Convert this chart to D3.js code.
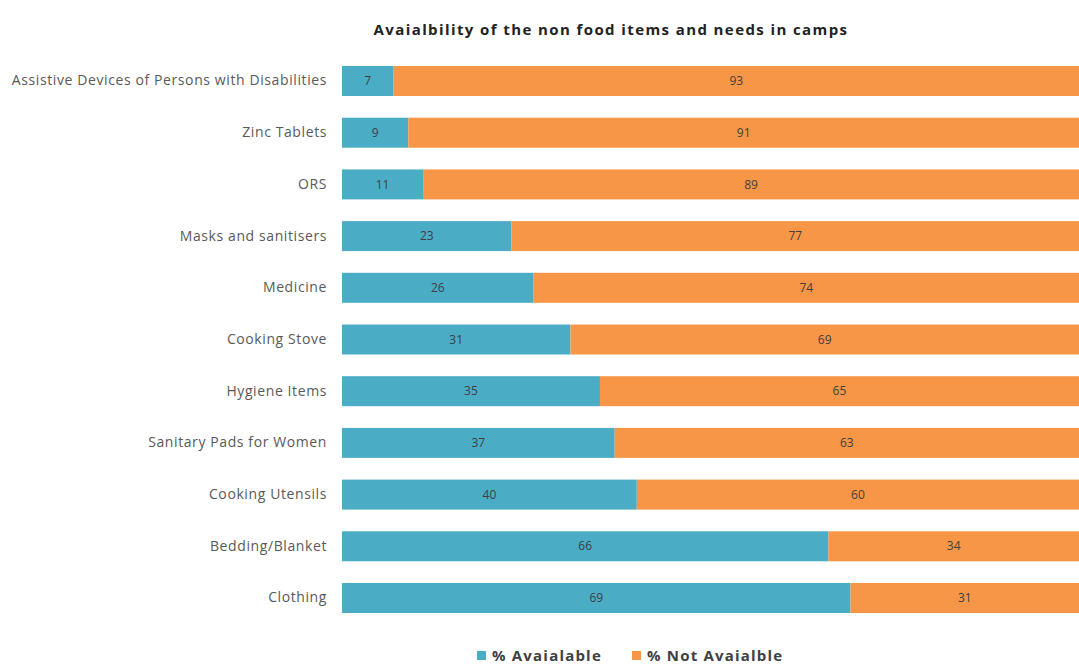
<!DOCTYPE html>
<html>
<head>
<meta charset="utf-8">
<script src="https://cdn.jsdelivr.net/npm/d3@7"></script>
<style>
  html, body { margin: 0; padding: 0; background: #fff; }
  svg { display: block; }
</style>
</head>
<body>
<svg id="chart" width="1079" height="665"></svg>
<script>
// Non food items surveyed in camps (top to bottom)
const categories = [
  "Assistive Devices of Persons with Disabilities",
  "Zinc Tablets",
  "ORS",
  "Masks  and sanitisers",
  "Medicine",
  "Cooking Stove",
  "Hygiene Items ",
  "Sanitary Pads for Women",
  "Cooking Utensils",
  "Bedding/Blanket",
  "Clothing"
];
const available    = [7, 9, 11, 23, 26, 31, 35, 37, 40, 66, 69];
const notAvailable = [93, 91, 89, 77, 74, 69, 65, 63, 60, 34, 31];
const seriesNames  = ["% Avaialable", "% Not Avaialble"];
const colors       = ["#4bacc6", "#f79646"];
const titleText    = "Avaialbility of the non food items and needs in camps";

const svg = d3.select("#chart");

const rows = categories.map((c, i) => ({ cat: c, a: available[i], n: notAvailable[i] }));

const x = d3.scaleLinear().domain([0, 100]).range([342, 1079]);
const y = d3.scaleBand().domain(categories).range([44.3, 634.7]).padding(0.42);

// Title
svg.append("text")
  .attr("x", 611).attr("y", 35)
  .attr("text-anchor", "middle")
  .style("font-family", "'Open Sans', sans-serif")
  .style("font-size", "15px").style("font-weight", "bold")
  .style("letter-spacing", "1.4px")
  .style("fill", "#222")
  .text(titleText);

// Stacked segments
const stack = d3.stack().keys(["a", "n"])(rows);
const g = svg.append("g");
stack.forEach((layer, li) => {
  g.selectAll(null).data(layer).enter().append("rect")
    .attr("x", d => x(d[0]))
    .attr("y", d => y(d.data.cat))
    .attr("width", d => x(d[1]) - x(d[0]))
    .attr("height", y.bandwidth())
    .attr("fill", colors[li]);
  g.selectAll(null).data(layer).enter().append("text")
    .attr("x", d => (x(d[0]) + x(d[1])) / 2)
    .attr("y", d => y(d.data.cat) + y.bandwidth() / 2)
    .attr("dy", "0.35em")
    .attr("text-anchor", "middle")
    .style("font-family", "'Open Sans', sans-serif")
    .style("font-size", "12px")
    .style("fill", "#404040")
    .text(d => d[1] - d[0]);
});

// Category axis
const yAxis = svg.append("g")
  .attr("transform", `translate(${x(0)},0)`)
  .call(d3.axisLeft(y).tickSize(0).tickPadding(15));
yAxis.select(".domain").remove();
yAxis.selectAll("text")
  .style("font-family", "'Open Sans', sans-serif")
  .style("font-size", "14px")
  .style("letter-spacing", "0.6px")
  .style("fill", "#595959");

// Legend
const legend = svg.append("g").attr("transform", "translate(477,656)");
const legendX = [0, 155];
seriesNames.forEach((name, i) => {
  const item = legend.append("g").attr("transform", `translate(${legendX[i]},0)`);
  item.append("rect").attr("x", 0).attr("y", -5).attr("width", 9).attr("height", 9).attr("fill", colors[i]);
  item.append("text").attr("x", 15).attr("y", 0).attr("dy", "0.35em")
    .style("font-family", "'Open Sans', sans-serif")
    .style("font-size", "15px").style("font-weight", "bold")
    .style("letter-spacing", "1.2px")
    .style("fill", "#404040")
    .text(name);
});
</script>
</body>
</html>
